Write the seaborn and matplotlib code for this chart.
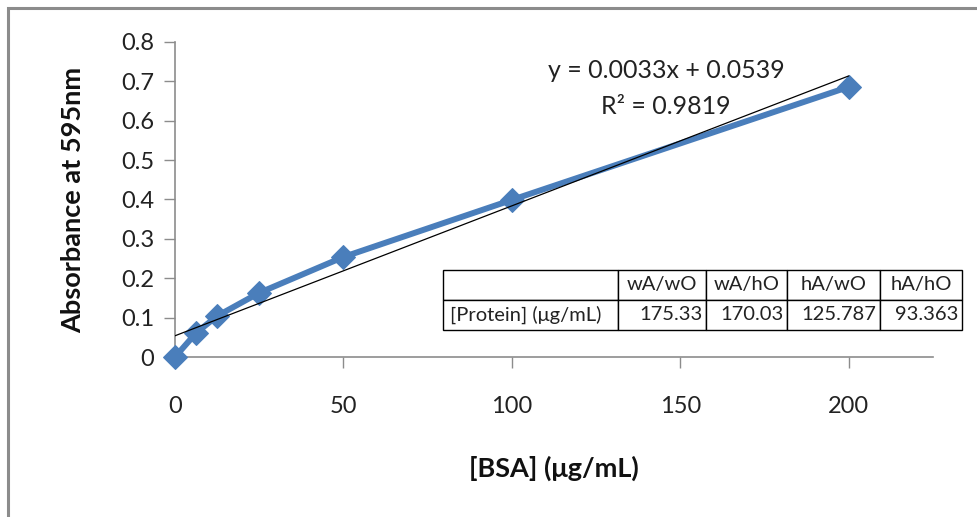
import matplotlib
matplotlib.use("Agg")
import matplotlib.pyplot as plt
import matplotlib.ticker as mticker
from matplotlib.patches import Rectangle
import numpy as np
import pandas as pd
import seaborn as sns

# ---- data ----
bsa = [0, 6.25, 12.5, 25, 50, 100, 200]
absorbance = [0.0, 0.061, 0.104, 0.163, 0.254, 0.399, 0.686]
slope = 0.0033
intercept = 0.0539
r_squared = 0.9819
trend_x = [0, 200]
x_ticks = [0, 50, 100, 150, 200]
y_ticks = [0, 0.1, 0.2, 0.3, 0.4, 0.5, 0.6, 0.7, 0.8]
table_cols = ["", "wA/wO", "wA/hO", "hA/wO", "hA/hO"]
table_row = ["[Protein] (\u03bcg/mL)", "175.33", "170.03", "125.787", "93.363"]

sns.set_theme(style="white")
plt.rcParams['font.family'] = ['Lato', 'DejaVu Sans']

fig = plt.figure(figsize=(9.77, 5.17), dpi=100)
# outer chart border (gray, partially cropped)
fig.patches.append(Rectangle((8 / 977, -0.1), 1.2, (517 - 8) / 517 + 0.1,
                             transform=fig.transFigure, fill=False,
                             edgecolor="#8c8c8c", linewidth=2.2))

ax = fig.add_axes([175 / 977, 160 / 517, (933 - 175) / 977, (357 - 42) / 517])

df = pd.DataFrame({"bsa": bsa, "abs": absorbance})
trend_df = pd.DataFrame({"x": trend_x,
                         "y": [slope * v + intercept for v in trend_x]})

sns.lineplot(data=df, x="bsa", y="abs", ax=ax, color="#4a7ebb",
             linewidth=4.3, marker="D", markersize=12.5,
             markeredgecolor="#4a7ebb", clip_on=False, zorder=3)
sns.lineplot(data=trend_df, x="x", y="y", ax=ax, color="black",
             linewidth=0.9, zorder=4)

ax.set_xlim(0, 225)
ax.set_ylim(0, 0.8)
ax.set_xticks(x_ticks)
ax.set_yticks(y_ticks)
ax.yaxis.set_major_formatter(mticker.FuncFormatter(lambda v, p: f"{v:g}"))
ax.tick_params(axis="both", which="major", direction="out", length=8,
               width=1.0, color="#8c8c8c", labelsize=17, labelcolor="#222222",
               bottom=True, left=True)
ax.tick_params(axis="x", pad=20)
ax.tick_params(axis="y", pad=7)

for s in ["top", "right"]:
    ax.spines[s].set_visible(False)
for s in ["left", "bottom"]:
    ax.spines[s].set_color("#8c8c8c")
    ax.spines[s].set_linewidth(1.2)

ax.set_xlabel("[BSA] (\u03bcg/mL)", fontsize=19.5, fontweight="bold",
              labelpad=28, color="#111111")
ax.set_ylabel("Absorbance at 595nm", fontsize=19.5, fontweight="bold",
              labelpad=26, color="#111111")

ax.text(0.648, 0.908, f"y = {slope}x + {intercept}", transform=ax.transAxes,
        fontsize=18, ha="center", va="center", color="#222222")
ax.text(0.647, 0.796, f"R\u00b2 = {r_squared}", transform=ax.transAxes,
        fontsize=18, ha="center", va="center", color="#222222")

# table
tbl = ax.table(cellText=[table_row], colLabels=table_cols,
               colWidths=[175, 88, 81, 93, 82],
               bbox=[(443 - 175) / 758, (357 - 330) / 315, 519 / 758, 60 / 315],
               cellLoc="right")
tbl.auto_set_font_size(False)
for (r, c), cell in tbl.get_celld().items():
    cell.set_edgecolor("black")
    cell.set_linewidth(1.0)
    cell.set_facecolor("white")
    cell.get_text().set_fontsize(14.5)
    cell.get_text().set_color("#222222")
    cell.PAD = 0.04
    if c == 0:
        cell.get_text().set_ha("left")
        cell._loc = "left"
tbl.set_zorder(5)

fig.savefig("out.png", dpi=100, facecolor="white")
